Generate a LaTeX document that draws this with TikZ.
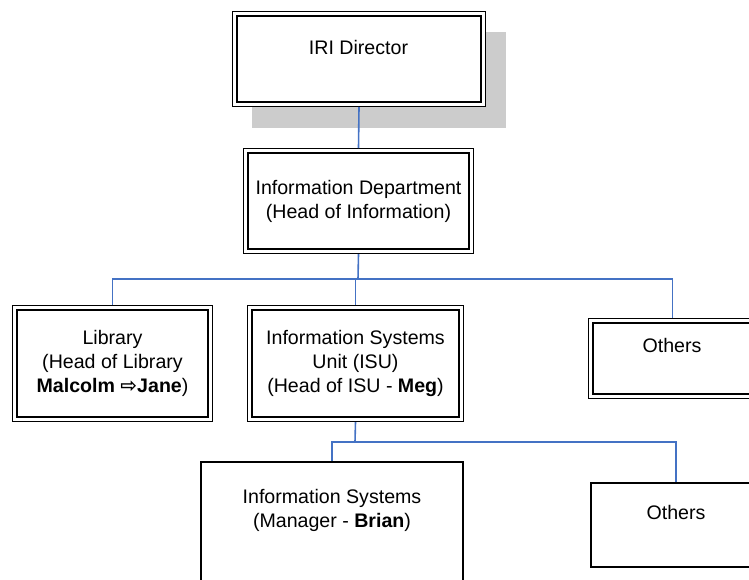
\documentclass[tikz,border=0pt]{standalone}
\usepackage{fontspec}
\setmainfont{Liberation Sans}
\newfontfamily\symfont{DejaVu Sans}
\definecolor{linkblue}{HTML}{4472C4}
\definecolor{shadowgray}{HTML}{CCCCCC}
\tikzset{
  dbox/.style={draw, line width=1pt, fill=white, inner sep=0pt,
    path picture={\draw[line width=2pt]
      ([shift={(4.5pt,4.5pt)}]path picture bounding box.south west) rectangle
      ([shift={(-4.5pt,-4.5pt)}]path picture bounding box.north east);}},
  sbox/.style={draw, line width=2pt, fill=white, inner sep=0pt},
  txt/.style={align=center, inner sep=0pt, font=\fontsize{19.6}{24}\selectfont},
  link/.style={draw=linkblue, line width=1.6pt},
}
\newcommand{\rarrow}{{\symfont\fontsize{20}{20}\selectfont\bfseries ⇨}}
\begin{document}
\begin{tikzpicture}[x=1pt, y=-1pt]
  \useasboundingbox (0,0) rectangle (749,579);
  \clip (0,0) rectangle (749,579);

  % drop shadow behind the director box
  \fill[shadowgray] (252,32) rectangle (506,128);

  % boxes
  \node[dbox, minimum width=253pt, minimum height=95pt] (dir) at (359,59) {};
  \node[txt] (dirt) at (358.5,47) {IRI Director};

  \node[dbox, minimum width=230pt, minimum height=105pt] (dept) at (358.5,201) {};
  \node[txt] (deptt) at (dept.center) {Information Department\\(Head of Information)};

  \node[dbox, minimum width=200pt, minimum height=116pt] (lib) at (112.5,363.5) {};
  \node[txt] (libt) at (lib.center) {Library\\(Head of Library\\\textbf{Malcolm \rarrow Jane})};

  \node[dbox, minimum width=216pt, minimum height=116pt] (isu) at (355.5,363.5) {};
  \node[txt] (isut) at (isu.center) {Information Systems\\Unit (ISU)\\(Head of ISU - \textbf{Meg})};

  \node[dbox, minimum width=168pt, minimum height=80pt] (oth1) at (672.5,358.5) {};
  \node[txt] (oth1t) at (672,345) {Others};

  \node[sbox, minimum width=262pt, minimum height=148pt] (sys) at (332,536) {};
  \node[txt] (syst) at (332,510.5) {Information Systems\\(Manager - \textbf{Brian})};

  \node[sbox, minimum width=170pt, minimum height=84pt] (oth2) at (676,525) {};
  \node[txt] (oth2t) at (676,512) {Others};

  % connectors
  \coordinate (j1) at (358,279);
  \coordinate (j2) at (355,442);
  \draw[link] (dir.south) -- (dept.north);
  \draw[link] (dept.south) -- (j1);
  \draw[link] (lib.north) |- (j1) -| (oth1.north);
  \draw[link] (isu.north) -- (isu.north |- j1);
  \draw[link] (isu.south) -- (j2);
  \draw[link] (sys.north) |- (j2) -| (oth2.north);
\end{tikzpicture}
\end{document}
